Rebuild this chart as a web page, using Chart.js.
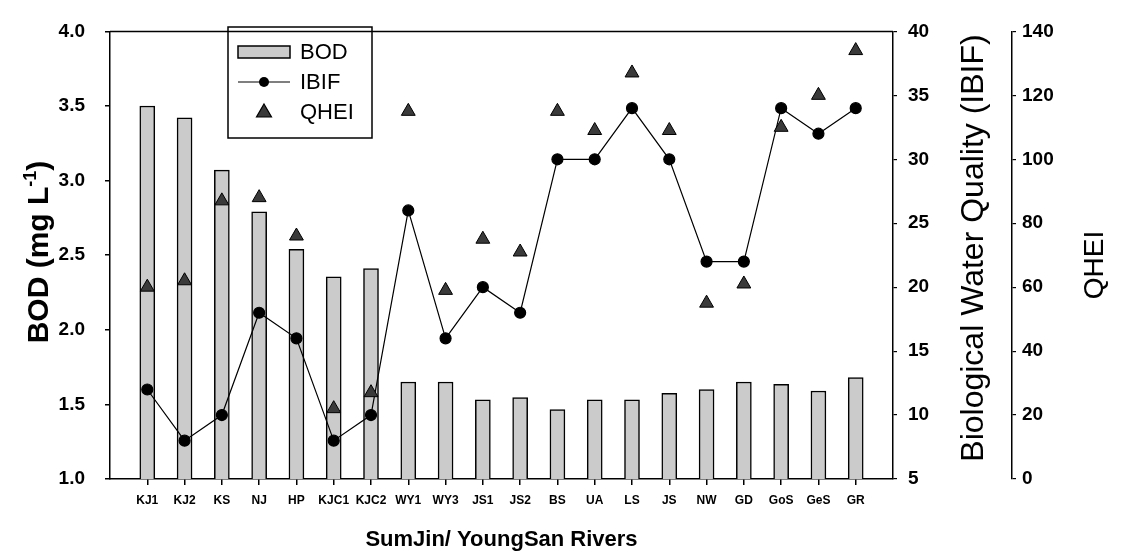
<!DOCTYPE html>
<html>
<head>
<meta charset="utf-8">
<script src="https://cdn.jsdelivr.net/npm/chart.js@4.4.1/dist/chart.umd.min.js"></script>
<style>
  body { margin: 0; background: #fff; }
  canvas { display: block; }
</style>
</head>
<body>
<canvas id="bod-chart" width="1122" height="556"></canvas>
<script>
// sampling sites along the SumJin / YoungSan rivers
const sites = ['KJ1', 'KJ2', 'KS', 'NJ', 'HP', 'KJC1', 'KJC2', 'WY1', 'WY3', 'JS1',
               'JS2', 'BS', 'UA', 'LS', 'JS', 'NW', 'GD', 'GoS', 'GeS', 'GR'];
const bod = [3.50, 3.42, 3.07, 2.79, 2.54, 2.355, 2.41, 1.65, 1.65, 1.53,
             1.545, 1.465, 1.53, 1.53, 1.575, 1.60, 1.65, 1.635, 1.59, 1.68];
const ibif = [12, 8, 10, 18, 16, 8, 10, 26, 16, 20, 18, 30, 30, 34, 30, 22, 22, 34, 32, 34];
const qhei = [60, 62, 87, 88, 76, 22, 27, 115, 59, 75, 71, 115, 109, 127, 109, 55, 61, 110, 120, 134];

const bodTicks = [1.0, 1.5, 2.0, 2.5, 3.0, 3.5, 4.0];
const ibifTicks = [5, 10, 15, 20, 25, 30, 35, 40];
const qheiTicks = [0, 20, 40, 60, 80, 100, 120, 140];

const tickFont = { family: 'Liberation Sans', size: 19, weight: 'bold' };

const toXY = arr => arr.map((v, i) => ({ x: i, y: v }));

// titles, frame top and legend are drawn by hand
const extras = {
    id: 'extras',
    afterDraw(chart) {
        const c = chart.ctx;
        const a = chart.chartArea;
        c.save();
        c.strokeStyle = '#000';
        c.fillStyle = '#000';
        c.lineWidth = 1.5;
        c.beginPath();
        c.moveTo(a.left, a.top);
        c.lineTo(a.right, a.top);
        c.stroke();

        // left title with superscript
        c.save();
        c.translate(40, 252);
        c.rotate(-Math.PI / 2);
        const big = 'bold 30px "Liberation Sans"';
        const small = 'bold 18px "Liberation Sans"';
        c.font = big;
        const p1 = 'BOD (mg L', p3 = ')';
        const w1 = c.measureText(p1).width, w3 = c.measureText(p3).width;
        c.font = small;
        const p2 = '-1';
        const w2 = c.measureText(p2).width;
        let x = -(w1 + w2 + w3) / 2;
        c.textBaseline = 'middle';
        c.textAlign = 'left';
        c.font = big;
        c.fillText(p1, x, 0);
        c.font = small;
        c.fillText(p2, x + w1, -9);
        c.font = big;
        c.fillText(p3, x + w1 + w2, 0);
        c.restore();

        // right titles
        c.save();
        c.translate(974, 248);
        c.rotate(-Math.PI / 2);
        c.font = '32px "Liberation Sans"';
        c.textAlign = 'center';
        c.textBaseline = 'middle';
        c.fillText('Biological Water Quality (IBIF)', 0, 0);
        c.restore();

        c.save();
        c.translate(1095, 265);
        c.rotate(-Math.PI / 2);
        c.font = '28px "Liberation Sans"';
        c.textAlign = 'center';
        c.textBaseline = 'middle';
        c.fillText('QHEI', 0, 0);
        c.restore();

        // x title
        c.font = 'bold 22px "Liberation Sans"';
        c.textAlign = 'center';
        c.textBaseline = 'middle';
        c.fillText('SumJin/ YoungSan Rivers', (a.left + a.right) / 2, 540);

        // legend
        c.lineWidth = 1.5;
        c.strokeRect(228, 27, 144, 111);
        const ds = chart.data.datasets;
        c.font = '22px "Liberation Sans"';
        c.textAlign = 'left';
        // bar swatch
        c.fillStyle = ds[0].backgroundColor;
        c.fillRect(238, 46, 52, 12);
        c.strokeStyle = '#000';
        c.strokeRect(238, 46, 52, 12);
        // line swatch
        c.lineWidth = 1.2;
        c.beginPath();
        c.moveTo(238, 82);
        c.lineTo(290, 82);
        c.stroke();
        c.fillStyle = '#000';
        c.beginPath();
        c.arc(264, 82, 5, 0, Math.PI * 2);
        c.fill();
        // triangle swatch
        c.fillStyle = ds[2].pointBackgroundColor;
        c.beginPath();
        c.moveTo(264, 104);
        c.lineTo(271.5, 117);
        c.lineTo(256.5, 117);
        c.closePath();
        c.fill();
        c.stroke();
        c.fillStyle = '#000';
        ds.forEach((d, i) => c.fillText(d.label, 300, 53 + i * 30));
        c.restore();
    }
};

const config = {
    data: {
        datasets: [{
            type: 'bar',
            label: 'BOD',
            data: toXY(bod),
            yAxisID: 'y',
            backgroundColor: '#cbcbcb',
            borderColor: '#000',
            borderWidth: 1.5,
            borderSkipped: false,
            barThickness: 15,
            order: 3
        }, {
            type: 'line',
            label: 'IBIF',
            data: toXY(ibif),
            yAxisID: 'y1',
            borderColor: '#000',
            borderWidth: 1.2,
            pointRadius: 5.5,
            pointBackgroundColor: '#000',
            pointBorderColor: '#000',
            tension: 0,
            order: 2
        }, {
            type: 'line',
            label: 'QHEI',
            data: toXY(qhei),
            yAxisID: 'y2',
            showLine: false,
            pointStyle: 'triangle',
            pointRadius: 8,
            pointBackgroundColor: '#3a3a3a',
            pointBorderColor: '#000',
            pointBorderWidth: 1,
            order: 1
        }]
    },
    options: {
        responsive: false,
        animation: false,
        layout: { padding: { top: 25, left: 0, right: 0, bottom: 0 } },
        plugins: { legend: { display: false }, tooltip: { enabled: false } },
        scales: {
            x: {
                type: 'linear',
                offset: false,
                min: -1,
                max: 20,
                afterBuildTicks: s => { s.ticks = sites.map((_, i) => ({ value: i })); },
                afterFit: s => { s.height = 77; },
                ticks: {
                    autoSkip: false,
                    maxRotation: 0,
                    padding: 8,
                    color: '#000',
                    font: { family: 'Liberation Sans', size: 12, weight: 'bold' },
                    callback: v => sites[v]
                },
                grid: { offset: false, drawOnChartArea: false, tickLength: 6, color: '#000', lineWidth: 1.5 },
                border: { color: '#000', width: 1.5 }
            },
            y: {
                position: 'left',
                min: 1,
                max: 4,
                afterBuildTicks: s => { s.ticks = bodTicks.map(v => ({ value: v })); },
                afterFit: s => { s.width = 110; },
                ticks: { color: '#000', font: tickFont, padding: 20, callback: v => v.toFixed(1) },
                grid: { drawOnChartArea: false, tickLength: 5, color: '#000', lineWidth: 1.5 },
                border: { color: '#000', width: 1.5 }
            },
            y1: {
                position: 'right',
                weight: 0,
                min: 5,
                max: 40,
                afterBuildTicks: s => { s.ticks = ibifTicks.map(v => ({ value: v })); },
                afterFit: s => { s.width = 119; },
                ticks: { color: '#000', font: tickFont, padding: 11 },
                grid: { drawOnChartArea: false, tickLength: 4, color: '#000', lineWidth: 1.2 },
                border: { color: '#000', width: 1.5 }
            },
            y2: {
                position: 'right',
                weight: 1,
                min: 0,
                max: 140,
                afterBuildTicks: s => { s.ticks = qheiTicks.map(v => ({ value: v })); },
                afterFit: s => { s.width = 110; },
                ticks: { color: '#000', font: tickFont, padding: 6 },
                grid: { drawOnChartArea: false, tickLength: 4, color: '#000', lineWidth: 1.2 },
                border: { color: '#000', width: 1.5 }
            }
        }
    },
    plugins: [extras]
};

new Chart(document.getElementById('bod-chart').getContext('2d'), config);
</script>
</body>
</html>
